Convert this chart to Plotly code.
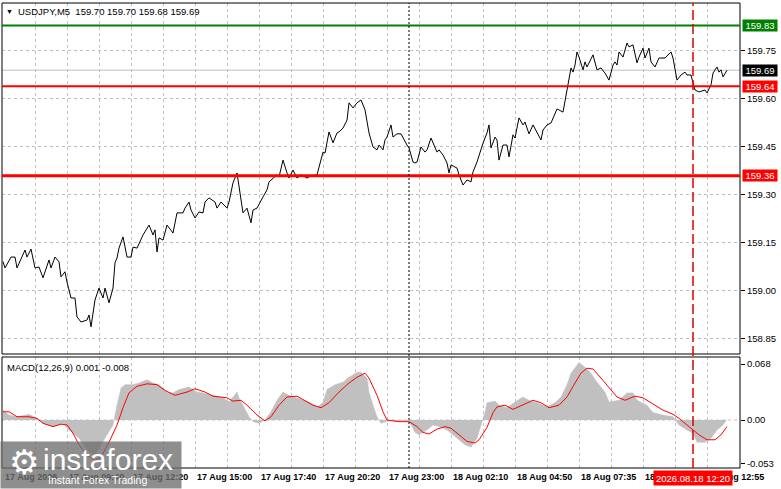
import plotly.graph_objects as go

# --- chart data (bar index = M5 bars from the left edge) ---
price_bar = [0, 1, 4, 6, 7, 11, 12, 14, 16, 18, 20, 23, 24, 26, 28, 29, 31, 32, 34, 36,
             37, 39, 42, 43, 44, 46, 48, 50, 51, 53, 55, 56, 57, 58, 60, 62, 64, 65, 67, 70,
             73, 75, 76, 77, 78, 80, 82, 85, 87, 90, 91, 93, 94, 96, 98, 100, 101, 103, 106, 107,
             109, 112, 113, 115, 117, 118, 120, 122, 124, 125, 127, 130, 132, 133, 135, 137, 138, 140, 142, 143,
             145, 147, 149, 152, 154, 157, 160, 161, 163, 165, 167, 168, 170, 172, 173, 175, 177, 179, 181, 183,
             185, 187, 188, 190, 191, 192, 194, 195, 197, 199, 202, 203, 205, 206, 207, 209, 211, 212, 214, 217,
             218, 220, 222, 223, 224, 227, 228, 230, 232, 234, 235, 237, 240, 242, 243, 244, 246, 247, 248, 250,
             252, 253, 255, 256, 258, 260, 261, 263, 265, 267, 269, 270, 272, 274, 277, 280, 281, 282, 283, 284,
             285, 286, 287, 288, 290, 291, 292, 294, 295, 297, 299, 301, 303, 305, 306, 307, 308, 310, 312, 313,
             315, 317, 318, 320, 321, 323, 324, 326, 328, 331, 334, 335, 337, 339, 341, 342, 344, 345, 346, 348,
             351, 352, 354, 355, 357, 358, 359, 360, 362]
price_close = [159.092, 159.072, 159.106, 159.106, 159.072, 159.128, 159.106, 159.131, 159.072, 159.075,
               159.041, 159.097, 159.072, 159.106, 159.091, 159.044, 159.060, 159.028, 158.978, 158.978,
               158.919, 158.903, 158.909, 158.925, 158.888, 158.972, 159.009, 158.978, 159.009, 158.963,
               159.009, 159.088, 159.103, 159.134, 159.169, 159.106, 159.106, 159.137, 159.134, 159.175,
               159.206, 159.175, 159.191, 159.122, 159.166, 159.159, 159.206, 159.181, 159.244, 159.244,
               159.259, 159.278, 159.253, 159.228, 159.247, 159.244, 159.278, 159.291, 159.278, 159.259,
               159.278, 159.259, 159.278, 159.338, 159.369, 159.322, 159.244, 159.259, 159.213, 159.253,
               159.259, 159.294, 159.316, 159.341, 159.353, 159.363, 159.356, 159.409, 159.369, 159.353,
               159.378, 159.353, 159.363, 159.353, 159.360, 159.363, 159.434, 159.431, 159.497, 159.463,
               159.494, 159.497, 159.509, 159.534, 159.588, 159.572, 159.588, 159.597, 159.566, 159.494,
               159.450, 159.441, 159.456, 159.441, 159.472, 159.481, 159.519, 159.481, 159.491, 159.491,
               159.456, 159.447, 159.403, 159.400, 159.403, 159.450, 159.434, 159.441, 159.478, 159.434,
               159.441, 159.425, 159.400, 159.369, 159.394, 159.384, 159.363, 159.331, 159.347, 159.341,
               159.372, 159.403, 159.462, 159.494, 159.519, 159.447, 159.481, 159.472, 159.409, 159.456,
               159.456, 159.419, 159.488, 159.478, 159.541, 159.519, 159.528, 159.491, 159.519, 159.497,
               159.472, 159.503, 159.519, 159.525, 159.569, 159.559, 159.591, 159.622, 159.666, 159.697,
               159.684, 159.706, 159.747, 159.731, 159.691, 159.716, 159.700, 159.728, 159.738, 159.691,
               159.697, 159.681, 159.659, 159.706, 159.716, 159.706, 159.747, 159.731, 159.775, 159.763,
               159.769, 159.713, 159.731, 159.759, 159.728, 159.759, 159.716, 159.700, 159.728, 159.728,
               159.747, 159.728, 159.659, 159.675, 159.684, 159.675, 159.675, 159.650, 159.628, 159.622,
               159.628, 159.619, 159.644, 159.681, 159.700, 159.684, 159.691, 159.669, 159.690]

hist_bar = [0, 3, 7, 13, 17, 20, 25, 30, 33, 38, 43, 46, 48, 52, 55, 57, 59, 61, 65, 68,
            72, 75, 78, 82, 85, 88, 93, 97, 100, 105, 110, 113, 116, 117, 118, 121, 123, 125, 128, 131,
            134, 137, 140, 143, 147, 150, 153, 157, 160, 162, 166, 170, 173, 177, 179, 182, 183, 185, 187, 189,
            193, 203, 206, 208, 212, 215, 218, 222, 227, 231, 234, 237, 239, 241, 242, 246, 248, 252, 256, 260,
            263, 267, 272, 276, 279, 282, 284, 287, 288, 291, 294, 297, 301, 303, 308, 312, 315, 317, 322, 325,
            330, 335, 338, 342, 345, 347, 351, 354, 357, 360, 362]
hist_val = [0.012, 0.006, 0.004, 0.007, 0.002, -0.004, -0.008, -0.004, -0.012, -0.022,
            -0.039, -0.043, -0.034, -0.018, -0.006, 0.018, 0.039, 0.043, 0.043, 0.045,
            0.049, 0.045, 0.043, 0.034, 0.033, 0.037, 0.040, 0.034, 0.033, 0.030,
            0.027, 0.022, 0.030, 0.034, 0.027, 0.012, 0.004, -0.002, -0.004, 0.000,
            0.010, 0.024, 0.034, 0.030, 0.027, 0.024, 0.022, 0.016, 0.021, 0.037,
            0.043, 0.046, 0.052, 0.058, 0.058, 0.051, 0.034, 0.018, 0.004, -0.004,
            -0.001, -0.001, -0.015, -0.018, -0.012, -0.006, -0.008, -0.012, -0.022, -0.030,
            -0.033, -0.022, -0.006, 0.009, 0.021, 0.023, 0.018, 0.015, 0.022, 0.028,
            0.024, 0.021, 0.016, 0.021, 0.028, 0.043, 0.057, 0.067, 0.070, 0.064,
            0.057, 0.046, 0.034, 0.022, 0.024, 0.033, 0.033, 0.024, 0.018, 0.009,
            0.006, 0.004, -0.006, -0.012, -0.016, -0.027, -0.027, -0.022, -0.012, -0.006, 0.001]

signal_bar = [0, 3, 7, 13, 17, 20, 25, 29, 32, 35, 38, 42, 46, 49, 53, 57, 60, 63, 67, 72,
              77, 81, 86, 92, 96, 101, 105, 112, 115, 119, 122, 127, 131, 134, 138, 142, 147, 151, 155, 159,
              163, 168, 173, 177, 181, 183, 187, 190, 192, 198, 203, 207, 210, 213, 217, 221, 224, 228, 232, 236,
              238, 242, 245, 247, 251, 255, 260, 265, 269, 273, 278, 282, 286, 289, 292, 295, 299, 303, 307, 311,
              316, 320, 325, 330, 335, 338, 343, 348, 352, 356, 359, 362]
signal_val = [0.010, 0.010, 0.004, 0.004, 0.002, -0.004, -0.008, -0.005, -0.006, -0.016,
              -0.030, -0.043, -0.049, -0.045, -0.027, -0.006, 0.015, 0.033, 0.041, 0.044,
              0.043, 0.036, 0.030, 0.034, 0.038, 0.034, 0.029, 0.027, 0.023, 0.024,
              0.018, 0.006, -0.001, 0.004, 0.018, 0.028, 0.029, 0.024, 0.018, 0.015,
              0.021, 0.034, 0.045, 0.052, 0.057, 0.051, 0.030, 0.010, 0.000, -0.002,
              -0.002, -0.008, -0.015, -0.017, -0.011, -0.008, -0.010, -0.018, -0.026, -0.028,
              -0.024, -0.009, 0.009, 0.016, 0.018, 0.013, 0.019, 0.024, 0.021, 0.015,
              0.018, 0.028, 0.045, 0.057, 0.063, 0.062, 0.051, 0.039, 0.028, 0.024,
              0.029, 0.027, 0.019, 0.012, 0.007, 0.002, -0.008, -0.018, -0.024, -0.024,
              -0.018, -0.008]

time_tick_bar = [0, 32, 64, 96, 128, 160, 192, 224, 256, 288, 320, 352]
time_tick_text = ["17 Aug 2026", "17 Aug 09:40", "17 Aug 12:20", "17 Aug 15:00",
                  "17 Aug 17:40", "17 Aug 20:20", "17 Aug 23:00", "18 Aug 02:10",
                  "18 Aug 04:50", "18 Aug 07:35", "18 Aug 10:15", "18 Aug 12:55"]

price_ticks = [158.85, 159.00, 159.15, 159.30, 159.45, 159.60, 159.75]
macd_ticks = [-0.053, 0.0, 0.068]
macd_tick_text = ["-0.053", "0.00", "0.068"]

resistance = 159.83
level_high = 159.64
level_low = 159.36
bid = 159.69

day_break_bar = 203
cursor_bar = 345
cursor_text = "2026.08.18 12:20"

header = "USDJPY,M5  159.70 159.70 159.68 159.69"
macd_label = "MACD(12,26,9) 0.001 -0.008"

# --- figure ---
W, H = 781, 489
L, R, T, B = 2, 41, 3, 21
PH = H - T - B


def px_y(py):
    return (H - B - py) / PH


def px_x(px):
    return (px - L) / (W - L - R)


FONT = "Tahoma, Liberation Sans, Arial"
GRID = "#C0C0C0"

fig = go.Figure()
fig.add_trace(go.Scatter(x=price_bar, y=price_close, mode="lines",
                         line=dict(color="black", width=1), xaxis="x", yaxis="y",
                         hoverinfo="skip"))
fig.add_trace(go.Scatter(x=hist_bar, y=hist_val, mode="lines", fill="tozeroy",
                         fillcolor="#C0C0C0", line=dict(color="#C0C0C0", width=0.5),
                         xaxis="x2", yaxis="y2", hoverinfo="skip"))
fig.add_trace(go.Scatter(x=signal_bar, y=signal_val, mode="lines",
                         line=dict(color="red", width=1), xaxis="x2", yaxis="y2",
                         hoverinfo="skip"))

xcommon = dict(range=[-0.5, 368.5], showticklabels=False, showgrid=True,
               gridcolor=GRID, griddash="3px,3px", gridwidth=1, tick0=0, dtick=16,
               zeroline=False, fixedrange=True)
fig.update_layout(
    width=W, height=H, margin=dict(l=L, r=R, t=T, b=B),
    paper_bgcolor="white", plot_bgcolor="white", showlegend=False,
    font=dict(family=FONT, size=10, color="black"),
    xaxis=dict(domain=[0, 1], anchor="y", **xcommon),
    xaxis2=dict(domain=[0, 1], anchor="y2", matches="x", **xcommon),
    yaxis=dict(domain=[px_y(354), 1], range=[158.803, 159.90], side="right",
               tickvals=price_ticks, ticktext=[f"{v:.2f}" for v in price_ticks],
               showgrid=True, gridcolor=GRID, griddash="3px,3px", zeroline=False,
               ticks="outside", ticklen=4, tickcolor="black",
               tickfont=dict(size=9.5, family=FONT), anchor="x"),
    yaxis2=dict(domain=[0, px_y(357)], range=[-0.0583, 0.0766], side="right",
                tickvals=macd_ticks, ticktext=macd_tick_text, showgrid=False,
                zeroline=False, ticks="outside", ticklen=4, tickcolor="black",
                tickfont=dict(size=9.5, family=FONT), anchor="x2"),
)

shapes = []
# panel borders
for xr, yr in (("x domain", "y domain"), ("x2 domain", "y2 domain")):
    shapes.append(dict(type="rect", xref=xr, yref=yr, x0=0, x1=1, y0=0, y1=1,
                       line=dict(color="black", width=1), layer="above"))
# macd zero level
shapes.append(dict(type="line", xref="x2 domain", yref="y2", x0=0, x1=1, y0=0, y1=0,
                   line=dict(color=GRID, width=1, dash="3px,3px"), layer="below"))
# horizontal levels
shapes.append(dict(type="line", xref="x domain", yref="y", x0=0, x1=1, y0=bid, y1=bid,
                   line=dict(color="#C0C0C0", width=1), layer="below"))
shapes.append(dict(type="line", xref="x domain", yref="y", x0=0, x1=1,
                   y0=resistance, y1=resistance, line=dict(color="#008000", width=2)))
shapes.append(dict(type="line", xref="x domain", yref="y", x0=0, x1=1,
                   y0=level_high, y1=level_high, line=dict(color="#FF0000", width=2)))
shapes.append(dict(type="line", xref="x domain", yref="y", x0=0, x1=1,
                   y0=level_low, y1=level_low, line=dict(color="#FF0000", width=3)))
# vertical markers across both panels
shapes.append(dict(type="line", xref="x", yref="paper", x0=day_break_bar, x1=day_break_bar,
                   y0=0, y1=1, line=dict(color="black", width=1, dash="2px,2px")))
shapes.append(dict(type="line", xref="x", yref="paper", x0=cursor_bar, x1=cursor_bar,
                   y0=0, y1=1, line=dict(color="#E00000", width=1.5, dash="10px,4px")))
fig.update_layout(shapes=shapes)

ann = []
ann.append(dict(xref="paper", yref="paper", x=px_x(9), y=px_y(11), text="▼",
                showarrow=False, xanchor="center", yanchor="middle",
                font=dict(size=7, color="black")))
ann.append(dict(xref="paper", yref="paper", x=px_x(16), y=px_y(11), text=header,
                showarrow=False, xanchor="left", yanchor="middle",
                font=dict(size=9.5, color="black", family=FONT)))
ann.append(dict(xref="paper", yref="paper", x=px_x(5), y=px_y(367), text=macd_label,
                showarrow=False, xanchor="left", yanchor="middle",
                font=dict(size=9.5, color="black", family=FONT)))
for val, bg in ((resistance, "#008000"), (bid, "black"), (level_high, "#FF0000"),
                (level_low, "#FF0000")):
    ann.append(dict(xref="paper", yref="y", x=1, y=val, text=f"{val:.2f}",
                    showarrow=False, xanchor="left", yanchor="middle", xshift=2,
                    bgcolor=bg, width=34, height=11, borderpad=0,
                    font=dict(size=9.5, color="white", family=FONT)))
for b, t in zip(time_tick_bar, time_tick_text):
    ann.append(dict(xref="x2", yref="paper", x=b, y=0, text=f"<b>{t}</b>",
                    showarrow=False, xanchor="left", yanchor="top", yshift=-2,
                    font=dict(size=9, color="black", family=FONT)))
ann.append(dict(xref="x2", yref="paper", x=cursor_bar, y=0, text=cursor_text,
                showarrow=False, xanchor="center", yanchor="top", yshift=-2,
                bgcolor="#FF0000", width=78, height=14, borderpad=0,
                font=dict(size=9.5, color="white", family=FONT)))
# watermark
ann.append(dict(xref="paper", yref="paper", x=px_x(0), y=px_y(489), text=" ",
                showarrow=False, xanchor="left", yanchor="bottom",
                bgcolor="rgba(110,110,110,0.78)", width=180, height=46, borderpad=0))
ann.append(dict(xref="paper", yref="paper", x=px_x(24), y=px_y(462), text="⚙",
                showarrow=False, xanchor="center", yanchor="middle",
                font=dict(size=34, color="white", family="DejaVu Sans")))
ann.append(dict(xref="paper", yref="paper", x=px_x(41), y=px_y(459), text="instaforex",
                showarrow=False, xanchor="left", yanchor="middle",
                font=dict(size=30, color="white", family="Liberation Sans")))
ann.append(dict(xref="paper", yref="paper", x=px_x(46), y=px_y(480),
                text="Instant Forex Trading", showarrow=False, xanchor="left",
                yanchor="middle", font=dict(size=10.5, color="white", family="Liberation Sans")))
fig.update_layout(annotations=ann)

# the page body has an 8px default margin; drop it so the chart fills the window exactly
fig.write_html("out.html", config={"displayModeBar": False},
               post_script="document.body.style.margin='0';document.body.style.overflow='hidden';")
